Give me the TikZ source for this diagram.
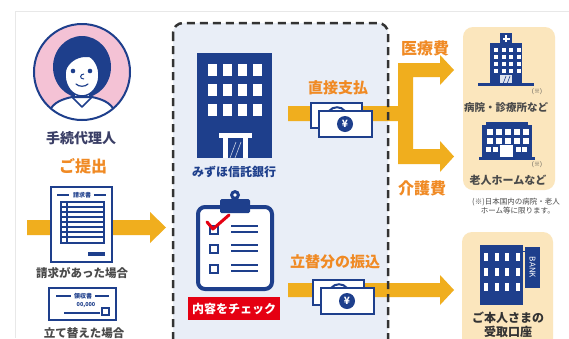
\documentclass[tikz,border=0pt]{standalone}
\usepackage{fontspec}
\setmainfont{Noto Sans CJK JP}
\begin{document}
\newcommand\fsz[1]{\fontsize{#1}{#1}\selectfont}
\definecolor{navy}{HTML}{1E3F8C}
\definecolor{inkc}{HTML}{3B3F66}
\definecolor{greyt}{HTML}{4A4A4A}
\definecolor{orangec}{HTML}{F08A24}
\definecolor{yel}{HTML}{F0AE1E}
\definecolor{panel}{HTML}{E9EEF7}
\definecolor{cream}{HTML}{FBE6BD}
\definecolor{pinkc}{HTML}{F4C2D5}
\definecolor{redc}{HTML}{E50012}
\definecolor{dashc}{HTML}{333333}
\definecolor{framec}{HTML}{E8E8E8}
\begin{tikzpicture}[x=1pt,y=-1pt,
  lbl/.style={inner sep=0pt, font=\bfseries},
  orangelbl/.style={lbl, text=orangec},
  greylbl/.style={lbl, text=greyt},
  iconline/.style={draw=navy, line width=2.5pt},
  money/.style={fill=white, draw=navy, line width=2.5pt}]
\useasboundingbox (0,0) rectangle (569,338);
\clip (0,0) rectangle (569,338);
\fill[white] (0,0) rectangle (569,338);
% faint frame
\draw[framec, line width=0.8pt] (15,338) -- (15,11) -- (569,11);

% ---------- agent portrait ----------
\begin{scope}
  \clip (82,72) circle (48);
  \fill[pinkc] (82,72) circle (48);
  \fill[navy] (82,67) ellipse (29 and 31);
  \fill[white] (75,86) rectangle (89,99);
  \filldraw[fill=white, draw=navy, line width=2pt]
    (44,130) -- (49,112) .. controls (53,102) and (63,99) .. (72,97)
    -- (92,97) .. controls (101,99) and (111,102) .. (115,112) -- (120,130) -- cycle;
  \draw[navy, line width=1.6pt, line join=round] (72,97) -- (82,107) -- (92,97);
  \filldraw[fill=white, draw=navy, line width=1.5pt] (82,75) ellipse (17 and 21);
  \fill[navy] (62,72) -- (62,48) -- (104,48) -- (104,68)
    .. controls (99,59) and (91,56) .. (84,57)
    .. controls (76,58) and (69,62) .. (65,72) -- cycle;
  \fill[navy] (73,71) circle (2.3);
  \fill[navy] (90,71) circle (2.3);
  \draw[navy, line width=1pt] (84,74) .. controls (80,74) and (79,79) .. (84,79);
  \draw[navy, line width=1.2pt, line cap=round] (76,84) .. controls (79,87) and (85,87) .. (88,84);
\end{scope}
\draw[navy, line width=2pt] (82,72) circle (48);
\node[lbl, text=inkc, font=\bfseries\fsz{14}] (agent) at (81,138) {手続代理人};
\node[orangelbl, font=\bfseries\fsz{16}] (submit) at (83,166) {ご提出};

% ---------- submission arrow ----------
\fill[yel] (27,220) -- (150,220) -- (150,212) -- (166,227.5) -- (150,243) -- (150,235) -- (27,235) -- cycle;

% claim form
\filldraw[fill=white, iconline] (51,187) rectangle (112,262);
\draw[navy, line width=1.5pt] (57,195) -- (69,195) (94,195) -- (106,195);
\node[lbl, text=navy, font=\bfseries\fsz{6}] (formhead) at (82,195) {請求書};
\draw[navy, line width=1.2pt] (61,202) rectangle (104,243);
\foreach \yy in {207,212,217,222,227,232,237} \draw[navy, line width=1.2pt] (61,\yy) -- (104,\yy);
\draw[navy, line width=1.2pt] (67,202) -- (67,243);
\fill[navy] (88,252) rectangle (105,256);
\node[greylbl, font=\bfseries\fsz{11.5}] (claimcase) at (82,273) {請求があった場合};

% receipt card
\filldraw[fill=white, iconline] (49,288) rectangle (116,320);
\draw[navy, line width=1.5pt] (56,296) -- (71,296) (95,296) -- (109,296);
\node[lbl, text=navy, font=\bfseries\fsz{6}] (cardhead) at (83,296) {領収書};
\node[lbl, text=navy, font=\bfseries\fsz{5.5}] (cardsum) at (86,305) {00,000};
\draw[navy, line width=1.5pt] (64,313) -- (100,313);
\draw[navy, line width=1.5pt] (102,308) rectangle (109,315);
\node[greylbl, font=\bfseries\fsz{11.5}] (paidcase) at (84,333) {立て替えた場合};

% ---------- trust bank panel ----------
\fill[panel, rounded corners=10pt] (173,23) rectangle (388,370);

% payment flows
\fill[yel] (288,106) -- (398,106) -- (398,63) -- (440,63) -- (440,55) -- (454,70) -- (440,85)
  -- (440,77) -- (413,77) -- (413,149) -- (440,149) -- (440,141) -- (454,156.5) -- (440,172)
  -- (440,164) -- (398,164) -- (398,121) -- (288,121) -- cycle;
\fill[yel] (288,283) -- (440,283) -- (440,275) -- (454,290) -- (440,305) -- (440,297) -- (288,297) -- cycle;

\draw[dashc, line width=2.5pt, dash pattern=on 8pt off 5pt, rounded corners=10pt] (173,23) rectangle (388,370);

% bank building
\fill[navy] (197,53) rectangle (272,158);
\foreach \xx in {208,223,238,253}
  \foreach \yy in {64,84,104}
    \fill[white] (\xx,\yy) rectangle ++(9,12);
\fill[white] (219,133) rectangle (252,138);
\fill[white] (223,138) rectangle (228,158);
\fill[white] (243,138) rectangle (248,158);
\draw[white!75!navy, line width=0.6pt] (230,158) -- (236,142) (235,158) -- (241,142);
\node[lbl, text=navy, font=\bfseries\fsz{12}] (trustbank) at (234,172) {みずほ信託銀行};

% clipboard
\filldraw[fill=white, draw=navy, line width=4pt, rounded corners=7pt] (198,207) rectangle (272,289);
\fill[navy, rounded corners=1.5pt] (220,199) rectangle (250,213);
\fill[navy] (235,195) circle (5);
\fill[white] (235,195) circle (1.8);
\foreach \yy in {226,245,265} {
  \draw[navy, line width=1.8pt] (210,\yy) rectangle ++(8,8);
  \draw[navy, line width=2pt] (231,\yy) -- (258,\yy) (231,\yy+6) -- (258,\yy+6);
}
\draw[redc, line width=3pt, line cap=round, line join=round] (207,222) -- (213,229) -- (229,215);
\node[lbl, fill=redc, text=white, font=\bfseries\fsz{12}, minimum width=92pt, minimum height=23pt] (check) at (234,308.5) {内容をチェック};

% money (direct payment)
\filldraw[money] (311,103) rectangle (362,128);
\draw[navy, line width=2pt] (329,111) .. controls (333,106) and (341,106) .. (345,111);
\filldraw[money] (319,111) rectangle (372,137);
\fill[navy] (345,124) circle (8);
\node[lbl, text=white, font=\bfseries\fsz{10}] (yenA) at (345,124) {¥};
\node[orangelbl, font=\bfseries\fsz{15}] (direct) at (338,88) {直接支払};

% money (reimbursement transfer)
\begin{scope}[shift={(2,177)}]
\filldraw[money] (311,103) rectangle (362,128);
\draw[navy, line width=2pt] (329,111) .. controls (333,106) and (341,106) .. (345,111);
\filldraw[money] (319,111) rectangle (372,137);
\fill[navy] (345,124) circle (8);
\node[lbl, text=white, font=\bfseries\fsz{10}] (yenB) at (345,124) {¥};
\end{scope}
\node[orangelbl, font=\bfseries\fsz{15}] (transfer) at (335,262) {立替分の振込};

\node[orangelbl, font=\bfseries\fsz{16}] (medical) at (425,48) {医療費};
\node[orangelbl, font=\bfseries\fsz{16}] (care) at (422,188) {介護費};

% ---------- facilities ----------
\fill[cream, rounded corners=10pt] (463,27) rectangle (555,190);
% hospital
\fill[navy] (500,33) rectangle (512,44);
\fill[white] (505,35) rectangle (507,42);
\fill[white] (502.5,37.5) rectangle (509.5,39.5);
\fill[navy] (490,43) rectangle (522,84);
\foreach \xx in {494,501.5,509,516.5}
  \foreach \yy in {48,55,62,69}
    \fill[white] (\xx,\yy) rectangle ++(4,3.5);
\fill[white!85!navy] (500,75) rectangle (512,84);
\draw[navy, line width=0.6pt] (503,84) -- (506,76) (507,84) -- (510,76);
\fill[navy] (478,83) rectangle (534,86);
\node[greylbl, font=\fsz{6}] (noteA) at (537,92) {(※)};
\node[greylbl, font=\bfseries\fsz{10.5}] (hospital) at (506,107) {病院・診療所など};
% nursing home
\fill[navy] (486,122) rectangle (528,126);
\fill[navy] (482,125) rectangle (532,158);
\foreach \xx in {487,496,505,514,523}
  \foreach \yy in {129,138}
    \fill[white] (\xx,\yy) rectangle ++(5.5,6);
\foreach \xx in {486,492.5,515.5,522}
  \fill[white] (\xx,147) rectangle ++(5,5);
\fill[white] (500,145) rectangle (513,158);
\fill[navy] (479,157) rectangle (535,160);
\node[greylbl, font=\fsz{6}] (noteB) at (537,165) {(※)};
\node[greylbl, font=\bfseries\fsz{11}] (nursing) at (508,180) {老人ホームなど};
\node[greylbl, font=\fsz{7.5}] (noteline1) at (516,202) {(※)日本国内の病院・老人};
\node[greylbl, font=\fsz{7.5}, anchor=east] (noteline2) at (555,211) {ホーム等に限ります。};

% ---------- recipient account ----------
\fill[cream, rounded corners=10pt] (462,232) rectangle (553,360);
\fill[navy] (480,245) rectangle (523,305);
\foreach \xx in {484,494.5,505,515.5}
  \foreach \yy in {253,268,283}
    \fill[white] (\xx,\yy) rectangle ++(4,8);
\draw[navy, line width=1pt] (523,251) -- (525,251);
\fill[navy] (525,247) rectangle (540,288);
\node[lbl, text=white, font=\fsz{8}, rotate=-90] (banksign) at (532.5,267.5) {BANK};
\node[greylbl, text=dashc, font=\bfseries\fsz{12}] (own) at (508,318) {ご本人さまの};
\node[greylbl, text=dashc, font=\bfseries\fsz{12}] (account) at (508,332) {受取口座};
\end{tikzpicture}
\end{document}
